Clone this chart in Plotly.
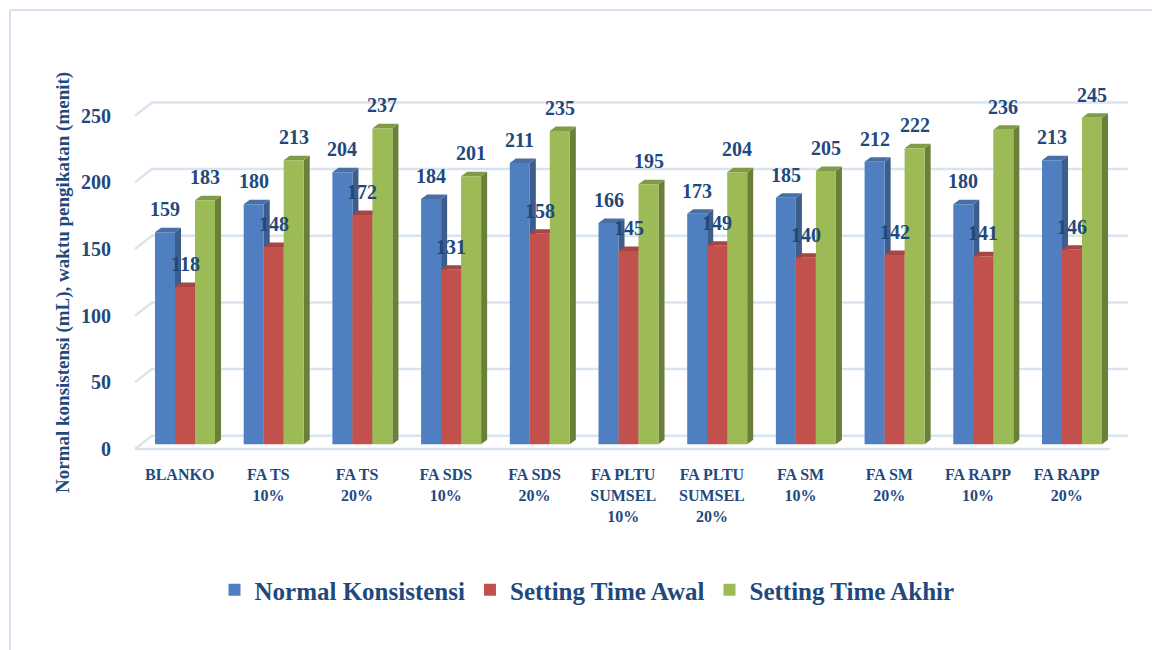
import plotly.graph_objects as go

# --- data ---
categories = ["BLANKO", "FA TS<br>10%", "FA TS<br>20%", "FA SDS<br>10%", "FA SDS<br>20%",
              "FA PLTU<br>SUMSEL<br>10%", "FA PLTU<br>SUMSEL<br>20%", "FA SM<br>10%",
              "FA SM<br>20%", "FA RAPP<br>10%", "FA RAPP<br>20%"]
normal_konsistensi = [159, 180, 204, 184, 211, 166, 173, 185, 212, 180, 213]
setting_time_awal = [118, 148, 172, 131, 158, 145, 149, 140, 142, 141, 146]
setting_time_akhir = [183, 213, 237, 201, 235, 195, 204, 205, 222, 236, 245]
y_ticks = [0, 50, 100, 150, 200, 250]

series = [
    ("Normal Konsistensi", normal_konsistensi, "#4f7fc1", "#3d5d8c", "#4a6ea6"),
    ("Setting Time Awal", setting_time_awal, "#c2514e", "#8b3735", "#a54644"),
    ("Setting Time Akhir", setting_time_akhir, "#9cba56", "#6a7f38", "#809b47"),
]

NAVY = "#1f497d"
FONT = "Liberation Serif, Times New Roman, DejaVu Serif, serif"
BAR_W = 0.2255          # bar width in category units
DX, DY = 0.068, 3.4     # 3-D depth offsets (x units, y units)
BACK_RISE, FRONT_DROP = 6.45, 3.5
X_FRONT, X_BACK, X_END = -0.564, -0.372, 10.63
GRID = "#dae4f1"

xs = list(range(len(categories)))
fig = go.Figure()
shapes = []

# back-wall gridlines with a slanted floor edge
for t in y_ticks:
    shapes.append(dict(
        type="path", xref="x", yref="y", layer="below",
        path=f"M {X_FRONT},{t - FRONT_DROP} L {X_BACK},{t + BACK_RISE} L {X_END},{t + BACK_RISE}",
        line=dict(color=GRID, width=2.5)))
shapes.append(dict(type="line", xref="x", yref="y", layer="below",
                   x0=X_FRONT, x1=10.43, y0=-FRONT_DROP, y1=-FRONT_DROP,
                   line=dict(color=GRID, width=2.5)))

annotations = []
for k, (name, vals, front, side, top) in enumerate(series):
    off = (k - 1.5) * BAR_W
    fig.add_trace(go.Bar(
        x=xs, y=vals, name=name, width=BAR_W, offset=off,
        marker=dict(color=front, line=dict(width=0)),
    ))
    for i, v in zip(xs, vals):
        x0 = i + off
        x1 = x0 + BAR_W
        shapes.append(dict(
            type="path", xref="x", yref="y", layer="below", line=dict(width=0),
            fillcolor=side,
            path=f"M {x1},0 L {x1 + DX},{DY} L {x1 + DX},{v + DY} L {x1},{v} Z"))
        shapes.append(dict(
            type="path", xref="x", yref="y", layer="below", line=dict(width=0),
            fillcolor=top,
            path=f"M {x0},{v} L {x0 + DX},{v + DY} L {x1 + DX},{v + DY} L {x1},{v} Z"))
        annotations.append(dict(
            x=x0 + BAR_W / 2, y=v, xref="x", yref="y", yshift=23, showarrow=False,
            text=str(v), font=dict(family=FONT, size=20, color=NAVY, weight="bold")))

# outer frame: top and left edges of the chart area
L, R_PLOT, T, B = 118, 1140, 50, 455
W, H = R_PLOT - L, B - T
FRAME = dict(color="#c9d7ea", width=1.5)
shapes.append(dict(type="line", xref="paper", yref="paper", layer="below",
                   x0=(10 - L) / W, x1=(1152 - L) / W,
                   y0=(B - 10) / H, y1=(B - 10) / H, line=FRAME))
shapes.append(dict(type="line", xref="paper", yref="paper", layer="below",
                   x0=(10 - L) / W, x1=(10 - L) / W,
                   y0=(B - 10) / H, y1=(B - 650) / H, line=FRAME))

annotations.append(dict(
    x=(63 - L) / W, y=(B - 283) / H, xref="paper", yref="paper", showarrow=False,
    xanchor="center", yanchor="middle",
    textangle=-90, text="Normal konsistensi (mL), waktu pengikatan (menit)",
    font=dict(family=FONT, size=19, color=NAVY, weight="bold")))

x_lo = -(185 - L) / 88.7
x_hi = x_lo + W / 88.7
y_lo = -(B - 444.3) / 1.333
y_hi = y_lo + H / 1.333

fig.update_layout(
    width=1152, height=650,
    margin=dict(l=L, r=1152 - R_PLOT, t=T, b=650 - B),
    paper_bgcolor="white", plot_bgcolor="white",
    barmode="overlay",
    font=dict(family=FONT, color=NAVY, weight="bold"),
    shapes=shapes, annotations=annotations,
    xaxis=dict(range=[x_lo, x_hi], tickvals=[i - 0.06 for i in xs], ticktext=categories,
               showgrid=False, zeroline=False, showline=False, ticks="",
               ticklabelstandoff=8,
               tickfont=dict(size=16, family=FONT, color=NAVY, weight="bold")),
    yaxis=dict(range=[y_lo, y_hi], tickvals=[t - FRONT_DROP for t in y_ticks],
               ticktext=[str(t) for t in y_ticks],
               showgrid=False, zeroline=False, showline=False, ticks="",
               ticklabelstandoff=6,
               tickfont=dict(size=20, family=FONT, color=NAVY, weight="bold")),
    legend=dict(orientation="h", x=(587 - L) / W, xanchor="center",
                y=(B - 590) / H, yanchor="middle",
                font=dict(size=25, family=FONT, color=NAVY, weight="bold"),
                traceorder="normal", itemwidth=30),
    showlegend=True,
)

fig.write_html("out.html")
